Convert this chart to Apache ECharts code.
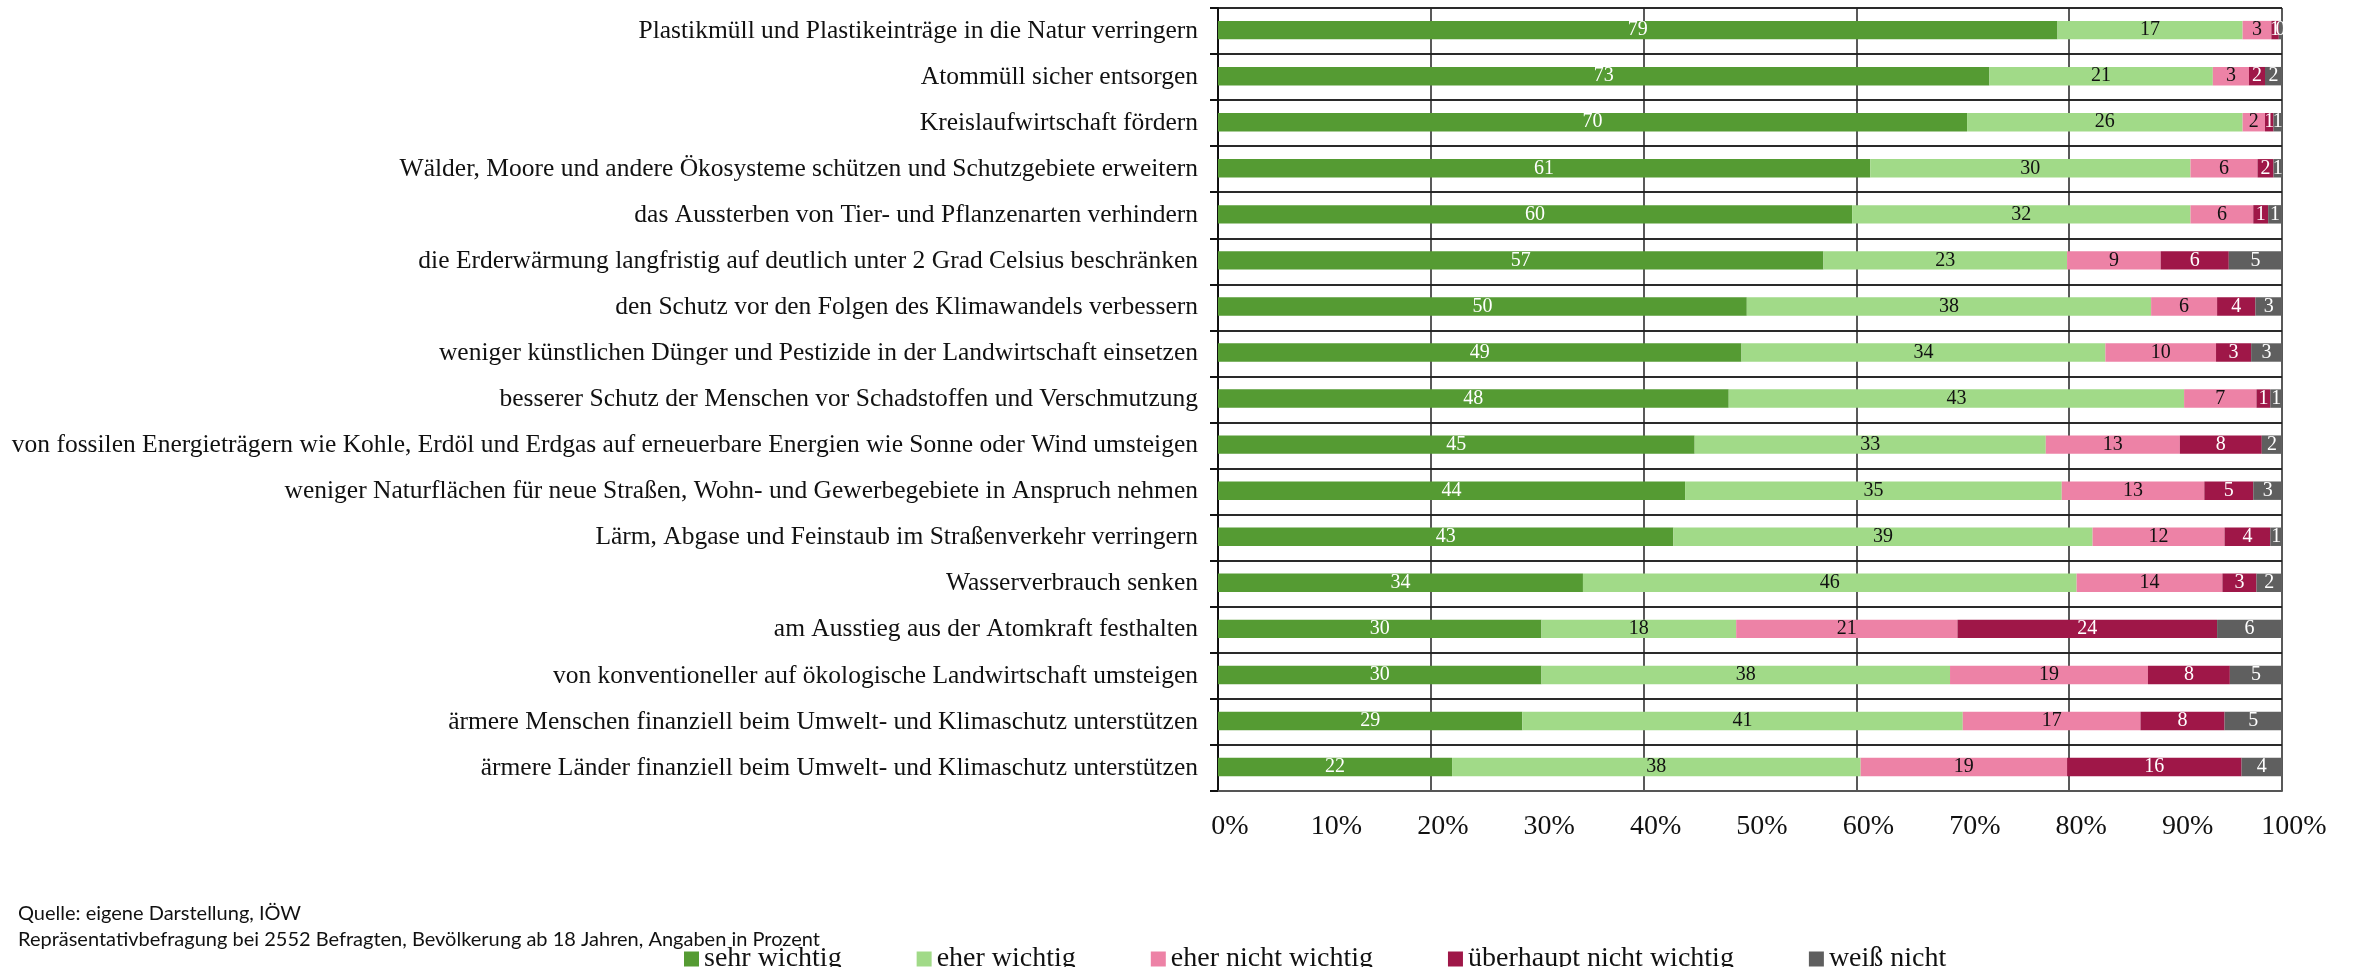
<!DOCTYPE html>
<html>
<head>
<meta charset="utf-8">
<title>Umweltziele</title>
<script src="https://cdn.jsdelivr.net/npm/echarts@6/dist/echarts.min.js"></script>
<style>
  html, body { margin: 0; padding: 0; background: #fff; }
  #chart { width: 2359px; height: 967px; }
</style>
</head>
<body>
<div id="chart"></div>
<script>
const categories = [
  'Plastikmüll und Plastikeinträge in die Natur verringern',
  'Atommüll sicher entsorgen',
  'Kreislaufwirtschaft fördern',
  'Wälder, Moore und andere Ökosysteme schützen und Schutzgebiete erweitern',
  'das Aussterben von Tier- und Pflanzenarten verhindern',
  'die Erderwärmung langfristig auf deutlich unter 2 Grad Celsius beschränken',
  'den Schutz vor den Folgen des Klimawandels verbessern',
  'weniger künstlichen Dünger und Pestizide in der Landwirtschaft einsetzen',
  'besserer Schutz der Menschen vor Schadstoffen und Verschmutzung',
  'von fossilen Energieträgern wie Kohle, Erdöl und Erdgas auf erneuerbare Energien wie Sonne oder Wind umsteigen',
  'weniger Naturflächen für neue Straßen, Wohn- und Gewerbegebiete in Anspruch nehmen',
  'Lärm, Abgase und Feinstaub im Straßenverkehr verringern',
  'Wasserverbrauch senken',
  'am Ausstieg aus der Atomkraft festhalten',
  'von konventioneller auf ökologische Landwirtschaft umsteigen',
  'ärmere Menschen finanziell beim Umwelt- und Klimaschutz unterstützen',
  'ärmere Länder finanziell beim Umwelt- und Klimaschutz unterstützen'
];

const seriesNames = ['sehr wichtig', 'eher wichtig', 'eher nicht wichtig', 'überhaupt nicht wichtig', 'weiß nicht'];

// Anteile in Prozent (Beschriftung gerundet)
const sehrWichtig = [78.9, 72.5, 70.4, 61.3, 59.6, 56.9, 49.7, 49.2, 48.0, 44.8, 43.9, 42.8, 34.3, 30.4, 30.4, 28.6, 22.0];
const eherWichtig = [17.4, 21.0, 25.9, 30.1, 31.8, 22.9, 38.0, 34.2, 42.8, 33.0, 35.4, 39.4, 46.4, 18.3, 38.4, 41.4, 38.4];
const eherNichtWichtig = [2.7, 3.4, 2.1, 6.3, 5.9, 8.8, 6.2, 10.4, 6.8, 12.6, 13.4, 12.4, 13.7, 20.8, 18.6, 16.7, 19.4];
const ueberhauptNicht = [0.7, 1.5, 0.8, 1.5, 1.4, 6.4, 3.6, 3.3, 1.3, 7.7, 4.6, 4.3, 3.2, 24.4, 7.7, 7.9, 16.4];
const weissNicht = [0.3, 1.6, 0.8, 0.8, 1.3, 5.0, 2.5, 2.9, 1.1, 1.9, 2.7, 1.1, 2.4, 6.1, 4.9, 5.4, 3.8];

const xTickLabels = ['0%', '10%', '20%', '30%', '40%', '50%', '60%', '70%', '80%', '90%', '100%'];

const colors = ['#559b33', '#a1da88', '#ed82a6', '#9f1748', '#5f5f5f'];
const labelColors = ['#fff', '#111', '#111', '#fff', '#fff'];
const values = [sehrWichtig, eherWichtig, eherNichtWichtig, ueberhauptNicht, weissNicht];

const serif = '"Liberation Serif", "DejaVu Serif", serif';

const chart = echarts.init(document.getElementById('chart'));

const barSeries = seriesNames.map((name, i) => ({
  name,
  type: 'bar',
  stack: 'total',
  xAxisIndex: 0,
  barWidth: '40%',
  data: values[i],
  label: {
    show: true,
    position: 'inside',
    color: labelColors[i],
    fontSize: 20,
    fontFamily: serif,
    formatter: (p) => Math.round(p.value)
  }
}));

// leere Reihe, damit die Beschriftungsachse sicher gezeichnet wird
barSeries.push({ name: 'achse', type: 'bar', xAxisIndex: 1, data: [] });

chart.setOption({
  animation: false,
  color: colors,
  textStyle: { fontFamily: serif },
  grid: {
    left: 1218,
    right: 77,
    top: 8,
    bottom: 176
  },
  legend: {
    left: 679,
    top: 940,
    itemWidth: 15,
    itemHeight: 15,
    itemGap: 75,
    icon: 'rect',
    textStyle: { fontFamily: serif, fontSize: 28, color: '#111' },
    data: seriesNames
  },
  xAxis: [{
    // Gitterlinien alle 20 %
    type: 'value',
    min: 0,
    max: 100,
    interval: 20,
    position: 'bottom',
    axisLine: { show: false },
    axisTick: { show: false },
    axisLabel: { show: false },
    splitLine: { show: true, lineStyle: { color: '#222', width: 1.5 } }
  }, {
    // Beschriftung alle 10 %
    type: 'value',
    min: 0,
    max: 100,
    interval: 10,
    position: 'bottom',
    axisLine: { show: true, lineStyle: { color: '#555', width: 2 } },
    axisTick: { show: false },
    splitLine: { show: false },
    axisLabel: {
      color: '#111',
      fontSize: 28,
      margin: 22,
      padding: [0, 0, 0, 24],
      formatter: (v) => xTickLabels[Math.round(v / 10)]
    }
  }],
  yAxis: {
    type: 'category',
    inverse: true,
    data: categories,
    axisLine: { show: true, lineStyle: { color: '#111', width: 2 } },
    axisTick: { show: true, length: 8, lineStyle: { color: '#111', width: 2 } },
    splitLine: { show: true, lineStyle: { color: '#2a2a2a', width: 2 } },
    axisLabel: { color: '#111', fontSize: 25.5, margin: 20 }
  },
  series: barSeries,
  graphic: [{
    type: 'text',
    left: 18,
    top: 904,
    style: {
      text: 'Quelle: eigene Darstellung, IÖW',
      font: '20px Lato, "Open Sans", sans-serif',
      fill: '#111'
    }
  }, {
    type: 'text',
    left: 18,
    top: 930,
    style: {
      text: 'Repräsentativbefragung bei 2552 Befragten, Bevölkerung ab 18 Jahren, Angaben in Prozent',
      font: '20px Lato, "Open Sans", sans-serif',
      fill: '#111'
    }
  }]
});
</script>
</body>
</html>
